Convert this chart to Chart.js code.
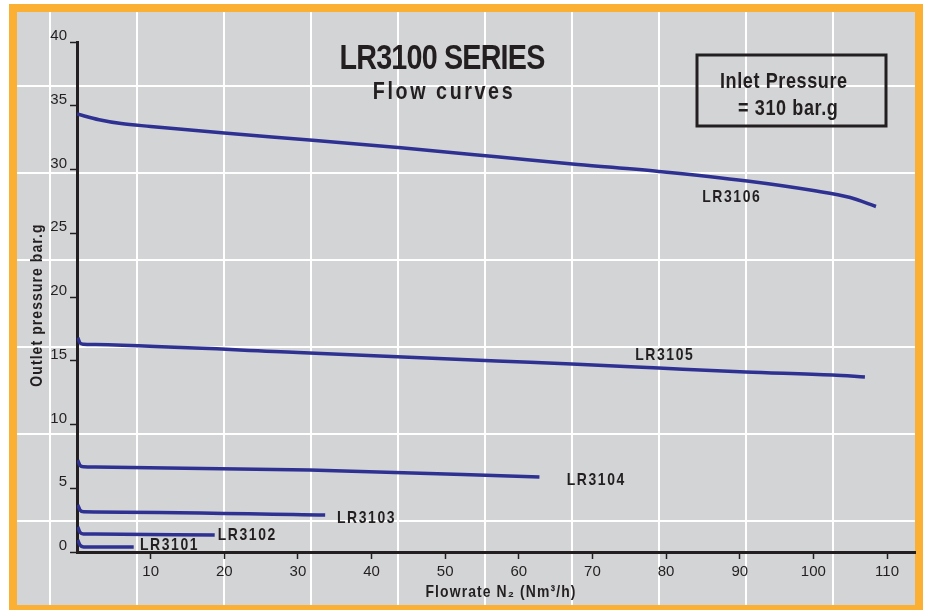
<!DOCTYPE html>
<html>
<head>
<meta charset="utf-8">
<script src="https://cdn.jsdelivr.net/npm/chart.js@4"></script>
<style>
  body { margin: 0; background: #fff; }
  canvas { display: block; }
</style>
</head>
<body>
<canvas id="myChart" width="925" height="610"></canvas>
<script>
// values
var seriesNames = ['LR3101', 'LR3102', 'LR3103', 'LR3104', 'LR3105', 'LR3106']

var lr3101X = [0.1, 0.4, 0.9, 2, 7.7]
var lr3101Y = [0.94, 0.55, 0.40, 0.39, 0.39]
var lr3102X = [0.1, 0.4, 0.9, 2.5, 18.7]
var lr3102Y = [1.96, 1.55, 1.42, 1.41, 1.33]
var lr3103X = [0.1, 0.4, 0.9, 2.5, 33.7]
var lr3103Y = [3.69, 3.30, 3.15, 3.14, 2.90]
var lr3104X = [0.1, 0.4, 0.9, 2.5, 31.6, 62.8]
var lr3104Y = [7.2, 6.8, 6.68, 6.66, 6.43, 5.88]
var lr3105X = [0.1, 0.4, 0.9, 2.5, 30, 57, 67.2, 79, 90.8, 102.6, 107]
var lr3105Y = [16.8, 16.4, 16.3, 16.27, 15.65, 14.98, 14.75, 14.43, 14.12, 13.88, 13.73]
var lr3106X = [0, 3, 6, 10, 20, 32, 44, 57, 68, 79, 91, 100, 105, 108.5]
var lr3106Y = [34.35, 33.9, 33.6, 33.38, 32.86, 32.3, 31.7, 31.0, 30.4, 29.85, 29.1, 28.35, 27.8, 27.1]

var xTicks = [10, 20, 30, 40, 50, 60, 70, 80, 90, 100, 110]
var yTicks = [0, 5, 10, 15, 20, 25, 30, 35, 40]

var allX = [lr3101X, lr3102X, lr3103X, lr3104X, lr3105X, lr3106X]
var allY = [lr3101Y, lr3102Y, lr3103Y, lr3104Y, lr3105Y, lr3106Y]

var ink = '#231f20'
var lineBlue = '#2e3192'
var sans = '"Liberation Sans", Arial, sans-serif'

function pts(xs, ys) {
    var out = []
    for (var i = 0; i < xs.length; i++) out.push({x: xs[i], y: ys[i]})
    return out
}

var datasets = []
for (var i = 0; i < seriesNames.length; i++) {
    datasets.push({
        label: seriesNames[i],
        data: pts(allX[i], allY[i]),
        borderColor: lineBlue,
        borderWidth: 3.5,
        pointRadius: 0,
        fill: false,
        cubicInterpolationMode: 'monotone'
    })
}

// label anchors in data units (left edge, middle)
var labelAt = {
    LR3101: [8.55, 0.55], LR3102: [19.1, 1.33], LR3103: [35.3, 2.67],
    LR3104: [66.5, 5.65], LR3105: [75.8, 15.45], LR3106: [84.9, 27.8]
}

// condensed text: the original uses a narrow bold face
function narrowText(c, txt, x, y, size, spacing, align, rot) {
    c.save()
    c.translate(x, y)
    if (rot) c.rotate(rot)
    c.scale(0.82, 1)
    c.font = 'bold ' + size + 'px ' + sans
    c.letterSpacing = (spacing / 0.82) + 'px'
    c.textAlign = align
    c.fillText(txt, 0, 0)
    c.restore()
}

var backdrop = {
    id: 'backdrop',
    beforeDraw: function(chart) {
        var c = chart.ctx
        c.save()
        c.fillStyle = '#ffffff'
        c.fillRect(0, 0, 925, 610)
        c.fillStyle = '#fbb034'
        c.fillRect(9, 4, 914, 615)
        c.fillStyle = '#d3d4d6'
        c.fillRect(17, 12, 898, 593)
        c.strokeStyle = '#ffffff'
        c.lineWidth = 2
        c.beginPath()
        for (var gx = 50; gx < 915; gx += 87) { c.moveTo(gx, 12); c.lineTo(gx, 605) }
        for (var gy = 86; gy < 605; gy += 87) { c.moveTo(17, gy); c.lineTo(915, gy) }
        c.stroke()
        c.restore()
    },
    afterDraw: function(chart) {
        var c = chart.ctx
        var xs = chart.scales.x, ys = chart.scales.y
        c.save()
        c.fillStyle = ink
        c.textBaseline = 'alphabetic'
        narrowText(c, 'LR3100 SERIES', 442, 69, 35, -0.8, 'center')
        narrowText(c, 'Flow curves', 444, 99, 24, 2.6, 'center')

        // inlet pressure box
        c.strokeStyle = ink
        c.lineWidth = 3
        c.strokeRect(697, 55, 189, 71)
        narrowText(c, 'Inlet Pressure', 720, 88, 22, 0.6, 'left')
        narrowText(c, '= 310 bar.g', 738, 115, 22, 0.6, 'left')

        // axis titles
        c.textBaseline = 'middle'
        narrowText(c, 'Outlet pressure bar.g', 37, 305, 17, 1.1, 'center', -Math.PI / 2)
        narrowText(c, 'Flowrate N\u2082 (Nm\u00b3/h)', 501, 592, 17, 1.1, 'center')

        // curve labels
        seriesNames.forEach(function(n) {
            var p = labelAt[n]
            narrowText(c, n, xs.getPixelForValue(p[0]), ys.getPixelForValue(p[1]), 17, 1.6, 'left')
        })
        c.restore()
    }
}

var ctx = document.getElementById('myChart')
var myChart = new Chart(ctx, {
    type: 'line',
    data: { datasets: datasets },
    plugins: [backdrop],
    options: {
        responsive: false,
        animation: false,
        devicePixelRatio: 1,
        layout: { padding: { left: 0, top: 42, right: 10, bottom: 0 } },
        plugins: { legend: { display: false }, tooltip: { enabled: false } },
        scales: {
            x: {
                type: 'linear',
                min: 0,
                max: 113.8,
                afterBuildTicks: function(s) { s.ticks = xTicks.map(function(v) { return {value: v} }) },
                afterFit: function(s) { s.height = 58 },
                border: { display: true, color: ink, width: 3 },
                grid: { drawOnChartArea: false, tickLength: 7, tickColor: ink, tickWidth: 1.5, color: ink },
                ticks: { color: ink, padding: 4, maxRotation: 0, font: { family: sans, size: 15 } },
                title: { display: false }
            },
            y: {
                type: 'linear',
                min: 0,
                max: 40,
                afterBuildTicks: function(s) { s.ticks = yTicks.map(function(v) { return {value: v} }) },
                afterFit: function(s) { s.width = 77 },
                border: { display: true, color: ink, width: 3 },
                grid: { drawOnChartArea: false, tickLength: 7, tickColor: ink, tickWidth: 1.5, color: ink },
                ticks: { color: ink, padding: 3, labelOffset: -6, font: { family: sans, size: 15 } },
                title: { display: false }
            }
        }
    }
})
</script>
</body>
</html>
